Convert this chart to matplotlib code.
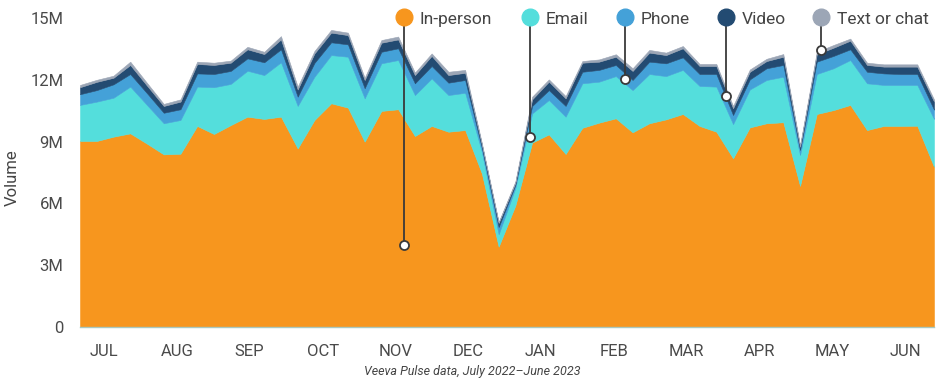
import numpy as np
import matplotlib
matplotlib.use("Agg")
import matplotlib.pyplot as plt

plt.rcParams['font.family'] = ['Roboto', 'DejaVu Sans']

# Weekly volumes (millions), July 2022 - June 2023
in_person = [9.03, 9.03, 9.24, 9.40, 8.90, 8.38, 8.41, 9.76, 9.37, 9.80,
             10.21, 10.10, 10.21, 8.67, 10.05, 10.86, 10.65, 9.00, 10.49, 10.57,
             9.27, 9.76, 9.48, 9.56, 7.45, 3.90, 5.90, 8.95, 9.35, 8.40,
             9.67, 9.92, 10.13, 9.45, 9.89, 10.08, 10.34, 9.76, 9.48, 8.19,
             9.69, 9.89, 9.94, 6.85, 10.34, 10.53, 10.78, 9.56, 9.76, 9.76,
             9.77, 7.78]
email = [1.75, 1.91, 1.89, 2.27, 1.88, 1.51, 1.64, 1.91, 2.27, 2.00,
         2.23, 2.13, 2.64, 2.06, 2.10, 2.34, 2.47, 2.10, 2.31, 2.39,
         1.99, 2.31, 1.78, 1.81, 1.05, 0.60, 0.85, 1.42, 1.67, 1.81,
         2.16, 1.99, 2.05, 2.05, 2.39, 2.10, 2.14, 1.94, 2.19, 1.66,
         1.84, 2.10, 2.21, 1.50, 1.94, 2.03, 2.18, 2.27, 1.99, 1.99,
         1.98, 2.32]
phone = [0.52, 0.56, 0.65, 0.61, 0.57, 0.51, 0.52, 0.64, 0.64, 0.63,
         0.60, 0.62, 0.63, 0.45, 0.67, 0.62, 0.60, 0.49, 0.56, 0.57,
         0.57, 0.60, 0.60, 0.62, 0.20, 0.35, 0.15, 0.36, 0.48, 0.52,
         0.56, 0.57, 0.54, 0.49, 0.60, 0.62, 0.61, 0.58, 0.61, 0.44,
         0.49, 0.57, 0.57, 0.24, 0.60, 0.60, 0.52, 0.56, 0.56, 0.53,
         0.53, 0.45]
video = [0.34, 0.40, 0.32, 0.44, 0.37, 0.33, 0.37, 0.46, 0.44, 0.40,
         0.44, 0.40, 0.48, 0.35, 0.46, 0.47, 0.45, 0.40, 0.44, 0.43,
         0.40, 0.49, 0.37, 0.35, 0.15, 0.20, 0.10, 0.32, 0.41, 0.37,
         0.44, 0.40, 0.40, 0.44, 0.44, 0.40, 0.44, 0.39, 0.39, 0.33,
         0.37, 0.35, 0.40, 0.16, 0.36, 0.40, 0.42, 0.33, 0.33, 0.36,
         0.36, 0.40]
text_chat = [0.11, 0.10, 0.10, 0.16, 0.13, 0.10, 0.11, 0.11, 0.11, 0.10,
             0.12, 0.11, 0.16, 0.14, 0.12, 0.13, 0.12, 0.11, 0.13, 0.14,
             0.12, 0.12, 0.16, 0.14, 0.07, 0.05, 0.07, 0.13, 0.11, 0.11,
             0.08, 0.11, 0.12, 0.13, 0.13, 0.12, 0.11, 0.10, 0.10, 0.11,
             0.11, 0.11, 0.13, 0.08, 0.12, 0.13, 0.10, 0.11, 0.11, 0.11,
             0.11, 0.10]

series_names = ["In-person", "Email", "Phone", "Video", "Text or chat"]
colors = ["#F7961E", "#54DEDC", "#44A1D8", "#234B72", "#9CA6B6"]

months = ["JUL", "AUG", "SEP", "OCT", "NOV", "DEC",
          "JAN", "FEB", "MAR", "APR", "MAY", "JUN"]
month_pos = [1.43, 5.79, 10.12, 14.5, 18.85, 23.2,
             27.52, 31.88, 36.22, 40.56, 44.95, 49.3]

yticks = [0, 3, 6, 9, 12, 15]
ytick_labels = ["0", "3M", "6M", "9M", "12M", "15M"]

# callout positions (week index, value in M)
callout_x = [19.34, 26.87, 32.54, 38.57, 44.28]
callout_y = [4.0, 9.21, 12.04, 11.2, 13.45]

weeks = np.arange(len(in_person))

fig = plt.figure(figsize=(9.41, 3.87), dpi=100)
ax = fig.add_axes([80 / 941, 60 / 387, 854 / 941, 309 / 387])

ax.stackplot(weeks, in_person, email, phone, video, text_chat,
             colors=colors, linewidth=0.4, edgecolor="face")
for coll, c in zip(ax.collections, colors):
    coll.set_edgecolor(c)

ax.set_xlim(0, len(in_person) - 1)
ax.set_ylim(0, 15)

ax.set_yticks(yticks)
ax.set_yticklabels(ytick_labels)
ax.set_xticks(month_pos)
ax.set_xticklabels(months)
ax.tick_params(axis="both", length=0, labelsize=12, labelcolor="#4a4a4a")
ax.tick_params(axis="y", pad=12)
ax.tick_params(axis="x", pad=12)

for s in ["top", "right", "left"]:
    ax.spines[s].set_visible(False)
ax.spines["bottom"].set_color("#a8c8c0")
ax.spines["bottom"].set_linewidth(1.0)

# legend with callouts
leg_y = 15.06
for name, c, cx, cy in zip(series_names, colors, callout_x, callout_y):
    ax.plot([cx, cx], [leg_y, cy], color="#3a3a3a", lw=1.3, clip_on=False, zorder=5)
    ax.plot([cx], [cy], marker="o", ms=6.5, mfc="white", mec="#3a3a3a",
            mew=1.3, clip_on=False, zorder=6)
    ax.plot([cx], [leg_y], marker="o", ms=12, mfc=c, mec=c,
            clip_on=False, zorder=7)
    ax.text(cx + 0.95, leg_y - 0.06, name, fontsize=12.5, color="#444444",
            va="center_baseline", ha="left", clip_on=False, zorder=7)

fig.text(12 / 941, 1 - 178 / 387, "Volume", rotation=90, fontsize=12,
         color="#444444", ha="center", va="center")
fig.text(472 / 941, 1 - 371 / 387, "Veeva Pulse data, July 2022\u2013June 2023",
         fontsize=9, style="italic", color="#444444", ha="center", va="center")

fig.savefig("out.png", dpi=100)
